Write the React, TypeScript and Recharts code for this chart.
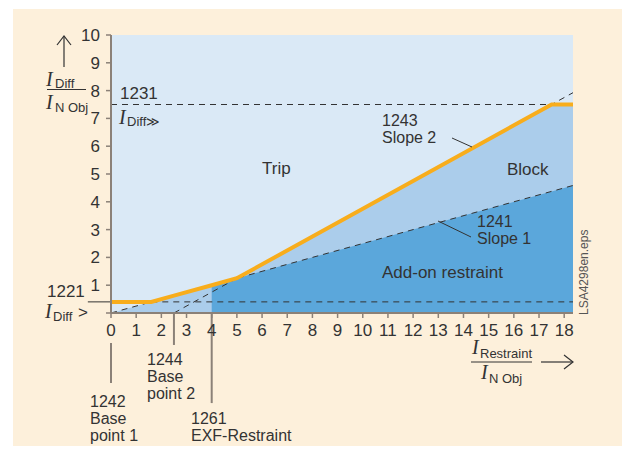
import {
  Area,
  CartesianGrid,
  ComposedChart,
  Line,
  ReferenceLine,
  XAxis,
  YAxis,
} from "recharts";

// I_Restraint / I_N Obj break points of the characteristic
const restraint = [0, 1.6, 2.5, 4, 5, 17.5, 18.35];
// orange tripping characteristic
const characteristic = [0.4, 0.4, 0.625, 1, 1.25, 7.5, 7.5];
// upper edge of the "Block" zone
const blockTop = [0, 0.4, 0.625, 1, 1.25, 7.5, 7.5];
// upper edge of the "Add-on restraint" zone (starts at EXF-Restraint = 4)
const addOnTop = [null, null, null, 1, 1.25, 4.375, 4.5875];
// dashed slope lines
const slope1 = [0, 0.4, 0.625, 1, 1.25, 4.375, 4.5875];
const slope2 = [null, null, 0, 0.75, 1.25, 7.5, 7.925];

const xTicks = [0, 1, 2, 3, 4, 5, 6, 7, 8, 9, 10, 11, 12, 13, 14, 15, 16, 17, 18];
const yTicks = [0, 1, 2, 3, 4, 5, 6, 7, 8, 9, 10];

const iDiffHigh = 7.5;
const iDiffLow = 0.4;
const basePoint2 = 2.5;
const exfRestraint = 4;

const rows = restraint.map((x, i) => ({
  x,
  trip: characteristic[i],
  block: blockTop[i],
  addOn: addOnTop[i],
  s1: slope1[i],
  s2: slope2[i],
}));

const W = 622;
const H = 455;
const CREAM = "#fdf0db";
const LIGHT = "#dae9f6";
const MID = "#abcdeb";
const DARK = "#5ba7db";
const ORANGE = "#f8ad1c";
const AXIS = "#8b8178";
const INK = "#333333";
const SANS = "'Liberation Sans', Arial, sans-serif";
const SERIF = "'Liberation Serif', 'Times New Roman', serif";

const tickStyle = { fill: INK, fontSize: 17, fontFamily: SANS };

function Txt({ x, y, children, size = 16 }: { x: number; y: number; children: any; size?: number }) {
  return (
    <text x={x} y={y} fill={INK} fontSize={size} fontFamily={SANS}>
      {children}
    </text>
  );
}

function Overlay() {
  return (
    <svg width={W} height={H} style={{ position: "absolute", left: 0, top: 0, pointerEvents: "none" }}>
      {/* y axis title */}
      <line x1={64} y1={36} x2={64} y2={67} stroke={INK} strokeWidth={1.2} />
      <polyline points="57,45 64,36 71,45" fill="none" stroke={INK} strokeWidth={1.2} />
      <text x={46} y={86} fill={INK} fontFamily={SERIF} fontStyle="italic" fontSize={20}>I</text>
      <text x={55} y={88} fill={INK} fontFamily={SANS} fontSize={13}>Diff</text>
      <line x1={47} y1={89.5} x2={86} y2={89.5} stroke={INK} strokeWidth={1} />
      <text x={46} y={109} fill={INK} fontFamily={SERIF} fontStyle="italic" fontSize={20}>I</text>
      <text x={55} y={112} fill={INK} fontFamily={SANS} fontSize={13}>N Obj</text>

      {/* I_Diff>> */}
      <Txt x={120} y={99} size={17}>1231</Txt>
      <text x={119} y={124} fill={INK} fontFamily={SERIF} fontStyle="italic" fontSize={20}>I</text>
      <text x={127} y={126} fill={INK} fontFamily={SANS} fontSize={13}>Diff≫</text>

      {/* I_Diff> */}
      <Txt x={47} y={297} size={17}>1221</Txt>
      <text x={45} y={318} fill={INK} fontFamily={SERIF} fontStyle="italic" fontSize={20}>I</text>
      <text x={53} y={321} fill={INK} fontFamily={SANS} fontSize={13}>Diff</text>
      <Txt x={78} y={318} size={17}>&gt;</Txt>

      {/* zone labels */}
      <Txt x={262} y={174} size={17}>Trip</Txt>
      <Txt x={382} y={126}>1243</Txt>
      <Txt x={382} y={143}>Slope 2</Txt>
      <line x1={452} y1={138} x2={472} y2={147} stroke={INK} strokeWidth={1} />
      <Txt x={507} y={175} size={17}>Block</Txt>
      <Txt x={477} y={227}>1241</Txt>
      <Txt x={477} y={244}>Slope 1</Txt>
      <line x1={438} y1={221} x2={471} y2={237} stroke={INK} strokeWidth={1} />
      <Txt x={382} y={278} size={17}>Add-on restraint</Txt>

      {/* parameter labels under the axis */}
      <Txt x={147} y={365}>1244</Txt>
      <Txt x={147} y={382}>Base</Txt>
      <Txt x={147} y={399}>point 2</Txt>
      <Txt x={90} y={407}>1242</Txt>
      <Txt x={90} y={424}>Base</Txt>
      <Txt x={90} y={441}>point 1</Txt>
      <Txt x={191} y={424}>1261</Txt>
      <Txt x={191} y={441}>EXF-Restraint</Txt>

      {/* x axis title */}
      <text x={472} y={354} fill={INK} fontFamily={SERIF} fontStyle="italic" fontSize={20}>I</text>
      <text x={480} y={358} fill={INK} fontFamily={SANS} fontSize={13}>Restraint</text>
      <line x1={471} y1={362} x2={532} y2={362} stroke={INK} strokeWidth={1} />
      <text x={481} y={379} fill={INK} fontFamily={SERIF} fontStyle="italic" fontSize={20}>I</text>
      <text x={489} y={383} fill={INK} fontFamily={SANS} fontSize={13}>N Obj</text>
      <line x1={541} y1={362} x2={573} y2={362} stroke={INK} strokeWidth={1.2} />
      <polyline points="564,355 573,362 564,369" fill="none" stroke={INK} strokeWidth={1.2} />

      {/* file tag */}
      <text
        x={588}
        y={315}
        transform="rotate(-90 588 315)"
        fill="#555"
        fontFamily={SANS}
        fontSize={12}
      >
        LSA4298en.eps
      </text>
    </svg>
  );
}

export default function App() {
  return (
    <div style={{ position: "absolute", left: 0, top: 0, width: W, height: H, background: "#fff" }}>
      <div style={{ position: "absolute", left: 13, top: 9, width: W - 13, height: 437, background: CREAM }} />
      <div style={{ position: "absolute", left: 0, top: 0 }}>
        <ComposedChart
          width={W}
          height={H}
          data={rows}
          margin={{ top: 35, right: 49, bottom: 112, left: 51 }}
        >
          <CartesianGrid fill={LIGHT} horizontal={false} vertical={false} />
          <XAxis
            type="number"
            dataKey="x"
            domain={[0, 18.35]}
            ticks={xTicks}
            interval={0}
            height={30}
            allowDataOverflow
            tick={tickStyle}
            tickSize={5}
            tickMargin={6}
            axisLine={{ stroke: AXIS, strokeWidth: 2 }}
            tickLine={{ stroke: AXIS, strokeWidth: 1.5 }}
          />
          <YAxis
            type="number"
            domain={[0, 10]}
            ticks={yTicks}
            interval={0}
            width={60}
            allowDataOverflow
            tick={tickStyle}
            tickFormatter={(v: number) => (v === 0 ? "" : String(v))}
            tickSize={5}
            tickMargin={6}
            axisLine={{ stroke: AXIS, strokeWidth: 2 }}
            tickLine={{ stroke: AXIS, strokeWidth: 1.5 }}
          />
          <Area
            type="linear"
            dataKey="block"
            stroke="none"
            fill={MID}
            fillOpacity={1}
            dot={false}
            activeDot={false}
            isAnimationActive={false}
          />
          <Area
            type="linear"
            dataKey="addOn"
            stroke="none"
            fill={DARK}
            fillOpacity={1}
            dot={false}
            activeDot={false}
            isAnimationActive={false}
          />
          <ReferenceLine
            segment={[{ x: 0, y: iDiffHigh }, { x: 17.5, y: iDiffHigh }]}
            stroke={INK}
            strokeWidth={1}
            strokeDasharray="6 5"
            ifOverflow="visible"
          />
          <ReferenceLine
            segment={[{ x: -0.92, y: iDiffLow }, { x: 0, y: iDiffLow }]}
            stroke={INK}
            strokeWidth={1}
            ifOverflow="visible"
          />
          <ReferenceLine
            segment={[{ x: 1.6, y: iDiffLow }, { x: 18.35, y: iDiffLow }]}
            stroke={INK}
            strokeWidth={1}
            strokeDasharray="6 5"
            ifOverflow="visible"
          />
          <ReferenceLine
            segment={[{ x: 0, y: -1.08 }, { x: 0, y: -2.52 }]}
            stroke={AXIS}
            strokeWidth={2}
            ifOverflow="visible"
          />
          <ReferenceLine
            segment={[{ x: basePoint2, y: 0 }, { x: basePoint2, y: -1.15 }]}
            stroke={AXIS}
            strokeWidth={2}
            ifOverflow="visible"
          />
          <ReferenceLine
            segment={[{ x: exfRestraint, y: 0 }, { x: exfRestraint, y: -3.24 }]}
            stroke={AXIS}
            strokeWidth={2}
            ifOverflow="visible"
          />
          <Line
            type="linear"
            dataKey="s1"
            stroke={INK}
            strokeWidth={1}
            strokeDasharray="6 5"
            dot={false}
            activeDot={false}
            isAnimationActive={false}
          />
          <Line
            type="linear"
            dataKey="s2"
            stroke={INK}
            strokeWidth={1}
            strokeDasharray="6 5"
            dot={false}
            activeDot={false}
            isAnimationActive={false}
          />
          <Line
            type="linear"
            dataKey="trip"
            stroke={ORANGE}
            strokeWidth={4}
            dot={false}
            activeDot={false}
            isAnimationActive={false}
          />
        </ComposedChart>
      </div>
      <Overlay />
    </div>
  );
}
